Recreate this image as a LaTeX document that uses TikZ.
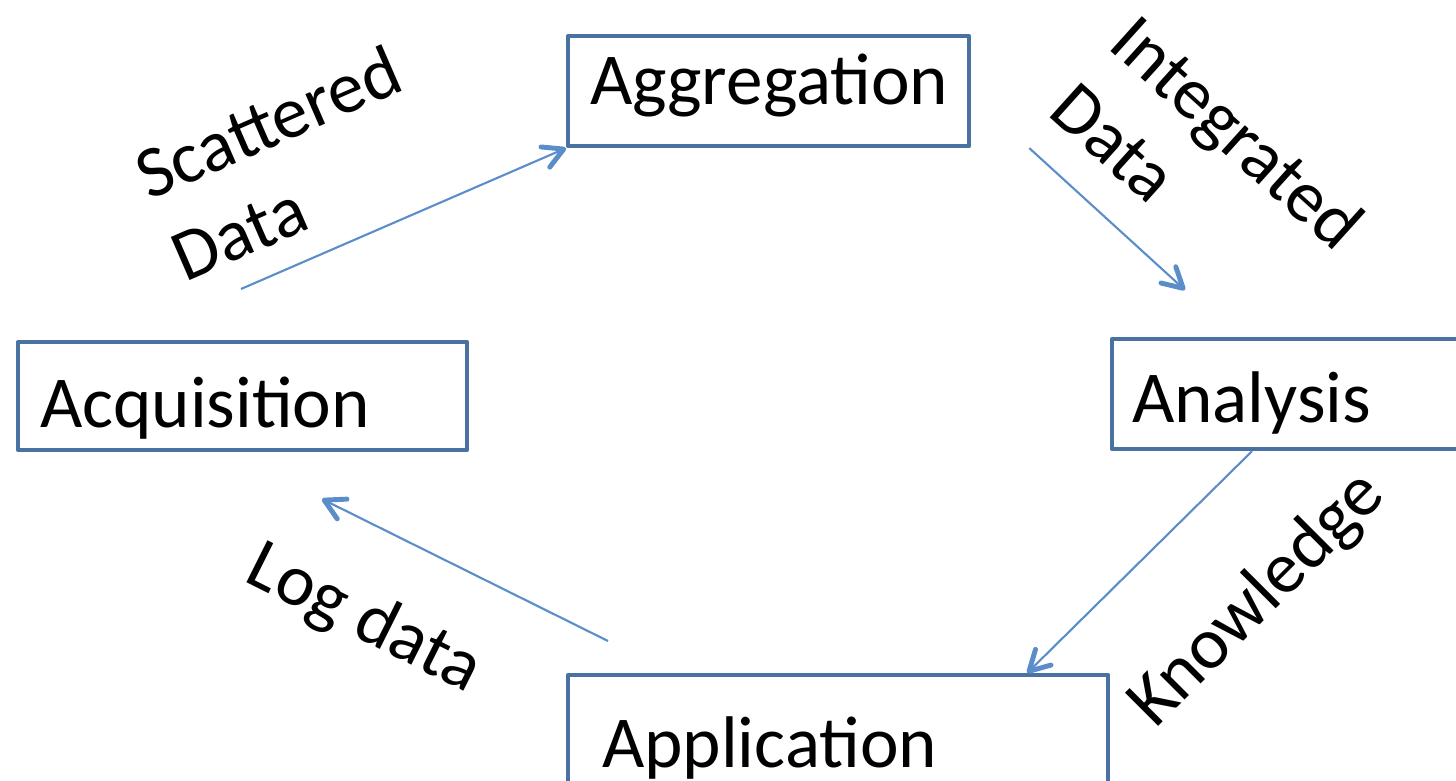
\documentclass[tikz,border=0pt]{standalone}
\usepackage{fontspec}
\setmainfont{Carlito}
\usepackage{tikz}
\usetikzlibrary{arrows.meta}
\definecolor{boxblue}{HTML}{4A72A0}
\definecolor{flowblue}{HTML}{5A8DCA}
\tikzset{
	stagebox/.style={draw=boxblue, line width=1.15pt, line join=round, anchor=north west, inner xsep=0.22cm, inner ysep=0pt, align=left, text depth=0pt, minimum height=1.1cm, font=\fontsize{20.8}{25}\selectfont},
	flow/.style={draw=flowblue, line width=0.6pt, -{Straight Barb[length=2mm,width=2.2mm,line width=1.4pt,round]}},
	flowlabel/.style={font=\fontsize{20.8}{25.5}\selectfont, align=left, inner sep=0pt}
}

\begin{document}
\begin{tikzpicture}[x=0.01cm, y=-0.01cm]
			\useasboundingbox (0,0) rectangle (1456,781);
			\clip (0,0) rectangle (1456,781);
			% stages
			\node[stagebox, text width=3.57cm, text height=0.26cm] (aggr) at (566,34) {Aggregation};
			\node[stagebox, text width=4.05cm, text height=0.62cm, minimum height=1.08cm] (acqu) at (16,340) {Acquisition};
			\node[stagebox, inner xsep=0.2cm, text width=3.8cm, text height=0.56cm] (anal) at (1110,337) {Analysis};
			\node[stagebox, inner xsep=0.34cm, text width=4.72cm, text height=0.74cm] (appl) at (566,673) {Application};
			% flows
			\coordinate (scatStart) at (241,289);
			\coordinate (intEnd) at (1185,290);
			\coordinate (logStart) at (608,641);
			\coordinate (logEnd) at (322,499);
			\draw[flow] (scatStart) -- (aggr.south west);
			\draw[flow] ([xshift=0.58cm]aggr.south east) -- (intEnd);
			\draw[flow] ([xshift=1.42cm]anal.south west) -- ([xshift=4.61cm]appl.north west);
			\draw[flow] (logStart) -- (logEnd);
			% labels
			\node[flowlabel, rotate=23.5] (scatLbl) at (286,163) {Scattered\\Data};
			\node[flowlabel, rotate=-42] (intLbl) at (1208,165) {Integrated\\Data};
			\node[flowlabel, rotate=45] (knowLbl) at (1258,600) {Knowledge};
			\node[flowlabel, rotate=-26.6] (logLbl) at (364,620) {Log data};
		\end{tikzpicture}
\end{document}
